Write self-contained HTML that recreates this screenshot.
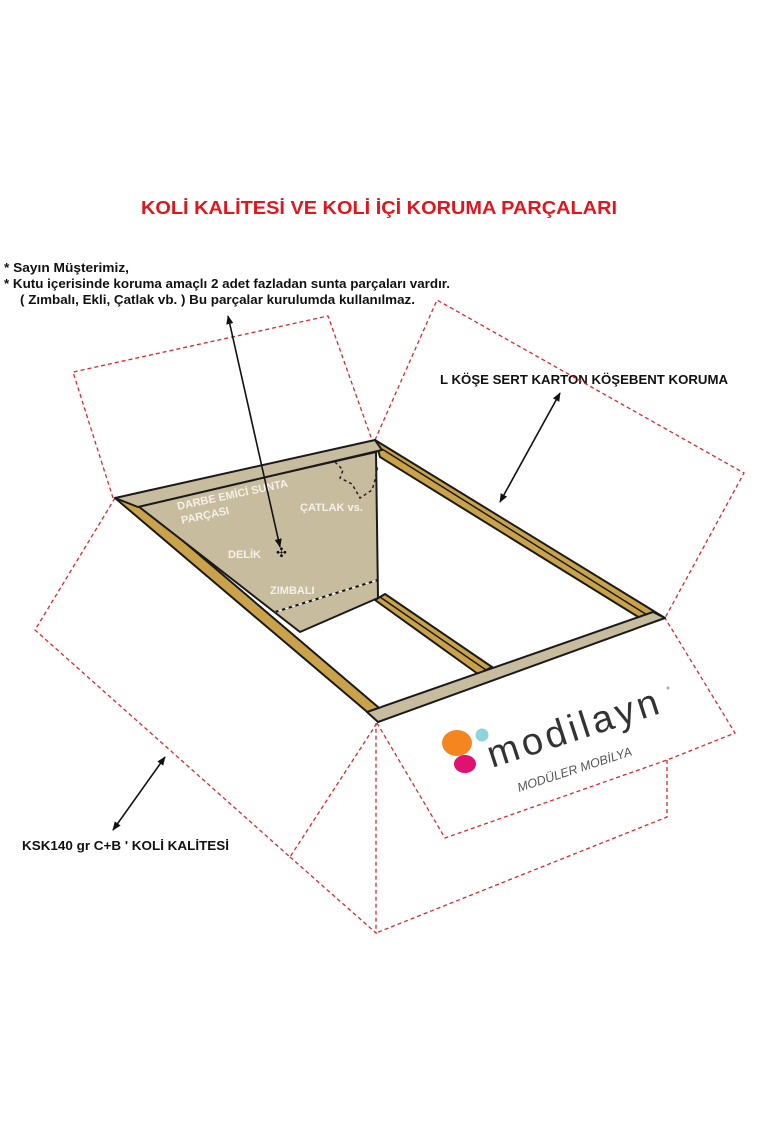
<!DOCTYPE html>
<html><head><meta charset="utf-8"><style>
html,body{margin:0;padding:0;background:#fff;}
svg{display:block;}
text{font-family:"Liberation Sans",sans-serif;}
</style></head><body>
<svg width="760" height="1140" viewBox="0 0 760 1140" xmlns="http://www.w3.org/2000/svg">
<defs>
<marker id="ah" viewBox="0 0 10 10" refX="9" refY="5" markerWidth="9" markerHeight="9" orient="auto-start-reverse" markerUnits="userSpaceOnUse"><path d="M0,1 L10,5 L0,9 z" fill="#111"/></marker>
</defs>
<text x="141" y="214" font-size="18" font-weight="bold" fill="#e3141b" textLength="476" lengthAdjust="spacingAndGlyphs">KOLİ KALİTESİ VE KOLİ İÇİ KORUMA PARÇALARI</text>
<g font-size="12.5" font-weight="bold" fill="#111">
<text x="4" y="272" textLength="125" lengthAdjust="spacingAndGlyphs">* Sayın Müşterimiz,</text>
<text x="4" y="288" textLength="446" lengthAdjust="spacingAndGlyphs">* Kutu içerisinde koruma amaçlı 2 adet fazladan sunta parçaları vardır.</text>
<text x="20" y="304" textLength="395" lengthAdjust="spacingAndGlyphs">( Zımbalı, Ekli, Çatlak vb. ) Bu parçalar kurulumda kullanılmaz.</text>
<text x="440" y="384" textLength="288" lengthAdjust="spacingAndGlyphs">L KÖŞE SERT KARTON KÖŞEBENT KORUMA</text>
<text x="22" y="850" textLength="207" lengthAdjust="spacingAndGlyphs">KSK140 gr C+B ' KOLİ KALİTESİ</text>
</g>
<g fill="none" stroke="#e3242b" stroke-width="1.3" stroke-dasharray="4,3">
<polyline points="113,498 73,372 328,316 372,440"/>
<polyline points="375,440 437,300 744,473 665,618"/>
<polyline points="115,498 35,630 290,857 377,723"/>
<polyline points="290,857 376,933 376,723"/>
<polyline points="377,723 445,838 667,760 735,733 665,618"/>
<polyline points="667,760 667,817 376,933"/>
</g>
<g stroke="#1a1a1a" stroke-width="2" stroke-linejoin="round">
<polygon points="115,498 135,500 385,713 372,716" fill="#c9a24a"/>
<polygon points="375,440 665,618 640,618 380,457" fill="#c9a24a"/>
<line x1="382" y1="449" x2="652" y2="618" stroke-width="1.5"/>
<polygon points="375,600 385,594 492,667 478,674" fill="#c9a24a"/>
<line x1="380" y1="597" x2="486" y2="670" stroke-width="1.5"/>
<polygon points="138,506 376,452 378,598 300,632" fill="#c8bc9f"/>
<polygon points="115,498 375,440 382,450 138,507" fill="#c8bc9f"/>
<polygon points="367,712 653,612 665,618 378,722" fill="#c8bc9f"/>
</g>
<polyline points="335,462 343,470 340,478 352,484 360,498 372,490 375,480 378,465" fill="none" stroke="#222" stroke-width="1.5" stroke-dasharray="3,3"/>
<line x1="275" y1="612" x2="378" y2="580" stroke="#111" stroke-width="2" stroke-dasharray="4,3"/>
<line x1="275" y1="612" x2="378" y2="580" stroke="#fff" stroke-width="1" stroke-dasharray="4,3" stroke-dashoffset="3.5"/>
<g fill="#f4f1ea" font-size="11" font-weight="bold">
<text x="178" y="510" transform="rotate(-12 178 510)">DARBE EMİCİ SUNTA</text>
<text x="182" y="524" transform="rotate(-12 182 524)">PARÇASI</text>
<text x="300" y="511">ÇATLAK vs.</text>
<text x="228" y="558">DELİK</text>
<text x="270" y="594">ZIMBALI</text>
</g>
<text x="276" y="557" font-size="13" fill="#111">✣</text>
<line x1="228" y1="316" x2="280" y2="547" stroke="#111" stroke-width="1.6" marker-start="url(#ah)" marker-end="url(#ah)"/>
<line x1="560" y1="393" x2="500" y2="502" stroke="#111" stroke-width="1.6" marker-start="url(#ah)" marker-end="url(#ah)"/>
<line x1="165" y1="757" x2="113" y2="830" stroke="#111" stroke-width="1.6" marker-start="url(#ah)" marker-end="url(#ah)"/>
<ellipse cx="457" cy="743" rx="15" ry="13" fill="#f5851f"/>
<circle cx="482" cy="735" r="6.5" fill="#8fd3dd"/>
<ellipse cx="465" cy="764" rx="11" ry="9" fill="#e0116f"/>
<text x="492" y="768" font-size="38" fill="#333" transform="rotate(-18 492 768)" textLength="178" lengthAdjust="spacing">modilayn</text>
<circle cx="668" cy="688" r="1.5" fill="#aaa"/>
<text x="519" y="792" font-size="12.5" font-style="italic" fill="#555" transform="rotate(-18 519 792)">MODÜLER MOBİLYA</text>
</svg>
</body></html>
